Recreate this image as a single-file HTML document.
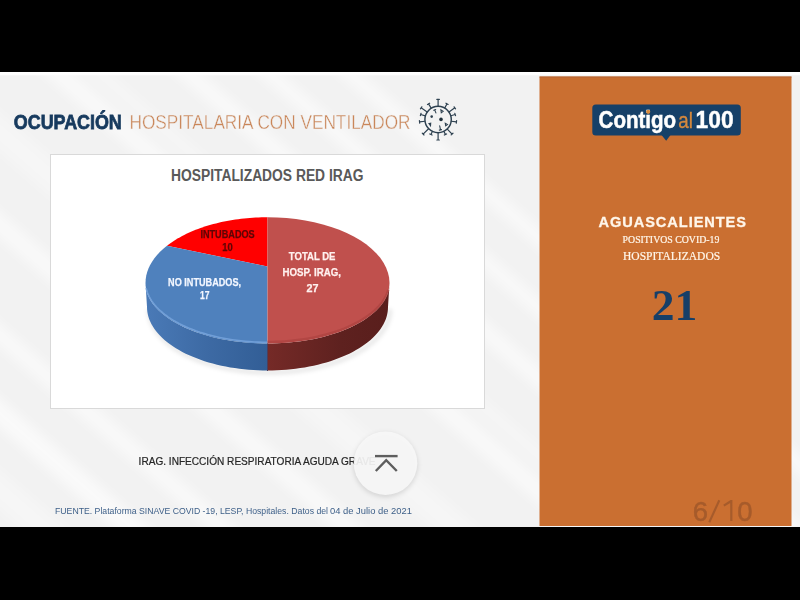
<!DOCTYPE html>
<html><head><meta charset="utf-8">
<style>
html,body{margin:0;padding:0;background:#000;width:800px;height:600px;overflow:hidden}
svg{display:block}
text{font-family:"Liberation Sans",sans-serif}
.serif{font-family:"Liberation Serif",serif}
</style></head>
<body>
<svg width="800" height="600" viewBox="0 0 800 600">
<defs>
  <clipPath id="slideClip"><rect x="0" y="73" width="800" height="454"/></clipPath>
  <linearGradient id="topline" x1="0" y1="0" x2="0" y2="1">
    <stop offset="0" stop-color="#fff"/>
    <stop offset="0.6" stop-color="#fdfdfd"/>
    <stop offset="1" stop-color="#fdfdfd" stop-opacity="0"/>
  </linearGradient>
  <linearGradient id="sideBlue" x1="0" y1="0" x2="1" y2="0">
    <stop offset="0" stop-color="#4a7ab7"/>
    <stop offset="0.5" stop-color="#3d6aa4"/>
    <stop offset="1" stop-color="#325e96"/>
  </linearGradient>
  <linearGradient id="sideRed" x1="0" y1="0" x2="1" y2="0">
    <stop offset="0" stop-color="#752a27"/>
    <stop offset="0.6" stop-color="#5e211f"/>
    <stop offset="1" stop-color="#591e1c"/>
  </linearGradient>
  <filter id="blur3" x="-50%" y="-50%" width="200%" height="200%"><feGaussianBlur stdDeviation="2.5"/></filter>
  <filter id="blur2" x="-20%" y="-50%" width="140%" height="200%"><feGaussianBlur stdDeviation="2"/></filter>
  <filter id="blur6" x="-50%" y="-50%" width="200%" height="200%"><feGaussianBlur stdDeviation="6"/></filter>
</defs>

<!-- slide background -->
<rect x="0" y="72" width="800" height="455" fill="#f2f2f2"/>
<g clip-path="url(#slideClip)">
  <g transform="rotate(41)" fill="#ffffff" filter="url(#blur6)">
    <rect x="-300" y="-182" width="1600" height="16" opacity="0.52"/>
    <rect x="-300" y="-129" width="1600" height="16" opacity="0.52"/>
    <rect x="-300" y="-77" width="1600" height="18" opacity="0.52"/>
    <rect x="-300" y="-17" width="1600" height="14" opacity="0.30"/>
    <rect x="-300" y="7" width="1600" height="20" opacity="0.52"/>
    <rect x="-300" y="85" width="1600" height="30" opacity="0.30"/>
    <rect x="-300" y="160" width="1600" height="20" opacity="0.52"/>
    <rect x="-300" y="244" width="1600" height="18" opacity="0.52"/>
    <rect x="-300" y="301" width="1600" height="22" opacity="0.60"/>
    <rect x="-300" y="355" width="1600" height="30" opacity="0.30"/>
  </g>
</g>
<rect x="0" y="72" width="800" height="4" fill="url(#topline)"/>

<!-- orange panel -->
<rect x="539.5" y="76.5" width="252" height="449.5" fill="#ca6f31"/>
<rect x="539.5" y="76.5" width="252" height="1.2" fill="#b06435" opacity="0.7"/>

<!-- title -->
<text x="13.8" y="129" font-size="20.5" font-weight="bold" fill="#173a5e" stroke="#173a5e" stroke-width="0.8" textLength="108" lengthAdjust="spacingAndGlyphs">OCUPACIÓN</text>
<text x="129.5" y="128.5" font-size="19.5" fill="#c98659" stroke="#f2f2f2" stroke-width="0.4" textLength="281" lengthAdjust="spacingAndGlyphs">HOSPITALARIA CON VENTILADOR</text>

<!-- virus icon -->
<g id="virus" transform="translate(438.1,119.5)" stroke="#2e4150" fill="none" stroke-linecap="round">
  <circle r="13.2" stroke-width="1.45"/>
  <path d="M0.00,-13.30L0.00,-20.10M-1.25,-20.10L1.25,-20.10M6.59,-11.55L8.92,-15.64M7.83,-16.25L10.00,-15.02M10.91,-7.61L16.73,-11.67M16.02,-12.70L17.45,-10.65M12.77,-3.73L17.08,-5.00M16.73,-6.20L17.44,-3.80M13.18,1.76L18.34,2.45M18.50,1.21L18.17,3.69M9.21,9.60L13.98,14.58M14.88,13.71L13.08,15.44M5.85,11.94L7.35,15.00M8.47,14.45L6.22,15.55M0.00,13.30L0.00,20.50M1.25,20.50L-1.25,20.50M-5.75,11.99L-7.17,14.97M-6.05,15.51L-8.30,14.43M-9.53,9.27L-14.98,14.57M-14.11,15.47L-15.85,13.67M-13.19,1.74L-18.54,2.44M-18.38,3.68L-18.70,1.20M-12.78,-3.69L-17.39,-5.02M-17.74,-3.82L-17.04,-6.22M-10.96,-7.53L-16.98,-11.67M-17.69,-10.64L-16.27,-12.70M-6.93,-11.35L-9.53,-15.62M-10.60,-14.97L-8.47,-16.27" stroke-width="1.2"/>
  <path d="M-3.4,-9.6L-2.2,-6.6M-4.4,-9.2L-2.4,-9.9M2.8,-9.6L3.2,-6.8L5,-8.2Z M-9.2,4L-7.6,6.2L-7.4,3.6Z M7.2,3.8L7.6,6.2L9.3,5Z M1.6,6.4L2.4,10.4M1.2,10.6L3.4,10.1" stroke-width="1.1"/>
  <circle cx="-6.4" cy="-2.9" r="1.3" fill="#2b3d4c" stroke="none"/>
  <circle cx="2.9" cy="-0.1" r="1.8" fill="#1f2f3a" stroke="none"/>
</g>

<!-- chart box -->
<rect x="50.5" y="154.5" width="434" height="254" fill="#fff" stroke="#d9d9d9" stroke-width="1"/>
<text x="171" y="180.6" font-size="16" font-weight="bold" fill="#595959" textLength="192.5" lengthAdjust="spacingAndGlyphs">HOSPITALIZADOS RED IRAG</text>

<!-- pie -->
<g id="pie">
  <path d="M147.00,307.00 L147.09,309.49 L147.37,311.98 L147.84,314.46 L148.48,316.93 L149.32,319.39 L150.33,321.82 L151.52,324.24 L152.90,326.62 L154.45,328.98 L156.17,331.30 L158.07,333.58 L160.13,335.83 L162.36,338.03 L164.76,340.18 L167.31,342.28 L170.01,344.32 L172.87,346.31 L175.87,348.24 L179.01,350.10 L182.29,351.90 L185.70,353.63 L189.24,355.29 L192.90,356.87 L196.67,358.37 L200.55,359.80 L204.54,361.14 L208.62,362.40 L212.79,363.58 L217.05,364.67 L221.39,365.67 L225.79,366.58 L230.26,367.39 L234.79,368.12 L239.37,368.75 L243.99,369.28 L248.65,369.72 L253.34,370.06 L258.05,370.30 L262.77,370.45 L267.50,370.50 L272.23,370.45 L276.95,370.30 L281.66,370.06 L286.35,369.72 L291.01,369.28 L295.63,368.75 L300.21,368.12 L304.74,367.39 L309.21,366.58 L313.61,365.67 L317.95,364.67 L322.21,363.58 L326.38,362.40 L330.46,361.14 L334.45,359.80 L338.33,358.37 L342.10,356.87 L345.76,355.29 L349.30,353.63 L352.71,351.90 L355.99,350.10 L359.13,348.24 L362.13,346.31 L364.99,344.32 L367.69,342.28 L370.24,340.18 L372.64,338.03 L374.87,335.83 L376.93,333.58 L378.83,331.30 L380.55,328.98 L382.10,326.62 L383.48,324.24 L384.67,321.82 L385.68,319.39 L386.52,316.93 L387.16,314.46 L387.63,311.98 L387.91,309.49 L388.00,307.00" fill="none" stroke="#000" stroke-opacity="0.10" stroke-width="4" filter="url(#blur2)" transform="translate(2,2)"/>
  <path d="M145.50,283.00 L145.59,285.38 L145.88,287.75 L146.35,290.11 L147.00,292.46 L147.84,294.80 L148.87,297.12 L150.08,299.42 L151.47,301.70 L153.04,303.94 L154.79,306.15 L156.71,308.33 L158.80,310.47 L161.06,312.56 L163.48,314.61 L166.06,316.61 L168.80,318.56 L171.69,320.46 L174.73,322.29 L177.91,324.07 L181.23,325.78 L184.69,327.43 L188.27,329.00 L191.97,330.51 L195.79,331.95 L199.72,333.30 L203.76,334.58 L207.89,335.79 L212.11,336.91 L216.42,337.94 L220.81,338.89 L225.27,339.76 L229.80,340.54 L234.38,341.23 L239.02,341.83 L243.70,342.34 L248.41,342.76 L253.16,343.08 L257.93,343.31 L262.71,343.45 L267.50,343.50 L267.50,370.50 L262.77,370.45 L258.05,370.30 L253.34,370.06 L248.65,369.72 L243.99,369.28 L239.37,368.75 L234.79,368.12 L230.26,367.39 L225.79,366.58 L221.39,365.67 L217.05,364.67 L212.79,363.58 L208.62,362.40 L204.54,361.14 L200.55,359.80 L196.67,358.37 L192.90,356.87 L189.24,355.29 L185.70,353.63 L182.29,351.90 L179.01,350.10 L175.87,348.24 L172.87,346.31 L170.01,344.32 L167.31,342.28 L164.76,340.18 L162.36,338.03 L160.13,335.83 L158.07,333.58 L156.17,331.30 L154.45,328.98 L152.90,326.62 L151.52,324.24 L150.33,321.82 L149.32,319.39 L148.48,316.93 L147.84,314.46 L147.37,311.98 L147.09,309.49 L147.00,307.00 Z" fill="url(#sideBlue)"/>
  <path d="M267.50,343.50 L272.29,343.45 L277.07,343.31 L281.84,343.08 L286.59,342.76 L291.30,342.34 L295.98,341.83 L300.62,341.23 L305.20,340.54 L309.73,339.76 L314.19,338.89 L318.58,337.94 L322.89,336.91 L327.11,335.79 L331.24,334.58 L335.28,333.30 L339.21,331.95 L343.03,330.51 L346.73,329.00 L350.31,327.43 L353.77,325.78 L357.09,324.07 L360.27,322.29 L363.31,320.46 L366.20,318.56 L368.94,316.61 L371.52,314.61 L373.94,312.56 L376.20,310.47 L378.29,308.33 L380.21,306.15 L381.96,303.94 L383.53,301.70 L384.92,299.42 L386.13,297.12 L387.16,294.80 L388.00,292.46 L388.65,290.11 L389.12,287.75 L389.41,285.38 L389.50,283.00 L388.00,307.00 L387.91,309.49 L387.63,311.98 L387.16,314.46 L386.52,316.93 L385.68,319.39 L384.67,321.82 L383.48,324.24 L382.10,326.62 L380.55,328.98 L378.83,331.30 L376.93,333.58 L374.87,335.83 L372.64,338.03 L370.24,340.18 L367.69,342.28 L364.99,344.32 L362.13,346.31 L359.13,348.24 L355.99,350.10 L352.71,351.90 L349.30,353.63 L345.76,355.29 L342.10,356.87 L338.33,358.37 L334.45,359.80 L330.46,361.14 L326.38,362.40 L322.21,363.58 L317.95,364.67 L313.61,365.67 L309.21,366.58 L304.74,367.39 L300.21,368.12 L295.63,368.75 L291.01,369.28 L286.35,369.72 L281.66,370.06 L276.95,370.30 L272.23,370.45 L267.50,370.50 Z" fill="url(#sideRed)"/>
  <path d="M267.5,266.5 L267.50,217.25 L264.55,217.27 L261.59,217.33 L258.64,217.42 L255.70,217.56 L252.76,217.73 L249.84,217.94 L246.92,218.19 L244.01,218.48 L241.12,218.81 L238.24,219.17 L235.38,219.57 L232.54,220.01 L229.72,220.48 L226.93,220.99 L224.15,221.54 L221.40,222.12 L218.68,222.74 L215.99,223.40 L213.33,224.09 L210.70,224.81 L208.10,225.57 L205.53,226.36 L203.01,227.19 L200.52,228.05 L198.07,228.94 L195.66,229.86 L193.29,230.81 L190.97,231.79 L188.69,232.81 L186.46,233.85 L184.28,234.92 L182.14,236.02 L180.06,237.15 L178.02,238.31 L176.04,239.49 L174.11,240.69 L172.24,241.92 L170.42,243.18 L168.66,244.46 L166.96,245.76 Z" fill="#ff0000"/>
  <path d="M267.5,266.5 L166.96,245.76 L163.35,248.76 L160.06,251.85 L157.08,255.04 L154.42,258.32 L152.10,261.66 L150.12,265.07 L148.49,268.53 L147.21,272.03 L146.28,275.57 L145.71,279.13 L145.50,282.70 L145.65,286.01 L146.16,289.28 L147.03,292.54 L148.25,295.77 L149.82,298.96 L151.75,302.11 L154.01,305.20 L156.61,308.22 L159.53,311.17 L162.78,314.04 L166.33,316.81 L170.18,319.48 L174.32,322.05 L178.73,324.50 L183.40,326.83 L188.33,329.03 L193.48,331.09 L198.86,333.02 L204.44,334.79 L210.20,336.41 L216.13,337.88 L222.22,339.18 L228.44,340.31 L234.77,341.28 L241.20,342.08 L247.71,342.70 L254.27,343.14 L260.88,343.41 L267.50,343.50 Z" fill="#4f81bd"/>
  <path d="M267.5,266.5 L267.50,343.50 L277.07,343.31 L286.59,342.76 L295.98,341.83 L305.20,340.54 L314.19,338.89 L322.89,336.91 L331.24,334.58 L339.21,331.95 L346.73,329.00 L353.77,325.78 L360.27,322.29 L366.20,318.56 L371.52,314.61 L376.20,310.47 L380.21,306.15 L383.53,301.70 L386.13,297.12 L388.00,292.46 L389.12,287.75 L389.50,283.00 L389.12,277.84 L388.00,272.71 L386.13,267.65 L383.53,262.68 L380.21,257.84 L376.20,253.15 L371.52,248.65 L366.20,244.35 L360.27,240.30 L353.77,236.51 L346.73,233.00 L339.21,229.81 L331.24,226.94 L322.89,224.42 L314.19,222.25 L305.20,220.47 L295.98,219.07 L286.59,218.06 L277.07,217.45 L267.50,217.25 Z" fill="#c0504d"/>
  <path d="M146.17,289.32 L146.72,291.52 L147.43,293.71 L148.30,295.89 L149.33,298.05 L150.52,300.18 L151.87,302.30 L153.38,304.39 L155.03,306.44 L156.84,308.47 L158.80,310.47 L160.90,312.42 L163.15,314.34 L165.53,316.22 L168.05,318.05 L170.71,319.83 L173.50,321.56 L176.41,323.25 L179.45,324.87 L182.60,326.45 L185.87,327.96 L189.24,329.41 L192.73,330.80 L196.31,332.13 L199.99,333.39 L203.76,334.58 L207.61,335.71 L211.54,336.76 L215.55,337.74 L219.63,338.65 L223.78,339.48 L227.98,340.24 L232.24,340.92 L236.54,341.52 L240.89,342.04 L245.27,342.49 L249.68,342.85 L254.11,343.13 L258.56,343.34 L263.03,343.46 L267.50,343.50" fill="none" stroke="#79a6de" stroke-width="1.6" stroke-opacity="0.8" transform="translate(0,-1.2)"/>
  <path d="M267.50,343.50 L271.86,343.46 L276.22,343.35 L280.57,343.15 L284.90,342.88 L289.21,342.53 L293.49,342.11 L297.74,341.61 L301.95,341.04 L306.11,340.39 L310.23,339.67 L314.29,338.87 L318.29,338.01 L322.22,337.07 L326.09,336.07 L329.88,334.99 L333.59,333.85 L337.21,332.65 L340.75,331.38 L344.19,330.05 L347.54,328.66 L350.78,327.21 L353.92,325.71 L356.94,324.14 L359.85,322.53 L362.65,320.87 L365.32,319.16 L367.86,317.40 L370.28,315.60 L372.56,313.75 L374.72,311.87 L376.73,309.95 L378.60,307.99 L380.34,306.01 L381.92,303.99 L383.36,301.95 L384.66,299.88 L385.80,297.79 L386.79,295.68 L387.63,293.56 L388.31,291.42" fill="none" stroke="#a8403d" stroke-width="2.5" stroke-opacity="0.6" transform="translate(0,-1.5)"/>
  <line x1="267.5" y1="343.5" x2="267.5" y2="371" stroke="#4d3f5c" stroke-width="1"/>
</g>
<!-- pie labels -->
<g font-weight="bold" font-size="10.5" stroke-width="0.25">
  <text x="200.4" y="238.2" fill="#5e0505" stroke="#5e0505" textLength="54.3" lengthAdjust="spacingAndGlyphs">INTUBADOS</text>
  <text x="222.3" y="251.4" fill="#5e0505" stroke="#5e0505" textLength="10.5" lengthAdjust="spacingAndGlyphs">10</text>
  <text x="288.8" y="260" fill="#fff0ee" stroke="#fff0ee" textLength="46.7" lengthAdjust="spacingAndGlyphs">TOTAL DE</text>
  <text x="282.5" y="275.5" fill="#fff0ee" stroke="#fff0ee" textLength="58.5" lengthAdjust="spacingAndGlyphs">HOSP. IRAG,</text>
  <text x="306.5" y="291.5" fill="#fff0ee" stroke="#fff0ee" textLength="12" lengthAdjust="spacingAndGlyphs">27</text>
  <text x="168.1" y="285.5" fill="#f2f6ff" stroke="#f2f6ff" textLength="72.9" lengthAdjust="spacingAndGlyphs">NO INTUBADOS,</text>
  <text x="200" y="299.3" fill="#f2f6ff" stroke="#f2f6ff" textLength="9.5" lengthAdjust="spacingAndGlyphs">17</text>
</g>

<!-- note text -->
<text x="138.6" y="465" font-size="10" fill="#262626" stroke="#262626" stroke-width="0.2" textLength="237" lengthAdjust="spacingAndGlyphs">IRAG. INFECCIÓN RESPIRATORIA AGUDA GRAVE</text>

<!-- footer -->
<text x="55" y="514.3" font-size="8.8" fill="#3d5f88" textLength="273" lengthAdjust="spacingAndGlyphs">FUENTE. Plataforma SINAVE COVID -19, LESP, Hospitales. Datos del</text>
<text x="330" y="514.3" font-size="9.4" fill="#3d5f88" textLength="82" lengthAdjust="spacingAndGlyphs">04 de Julio de 2021</text>

<!-- logo -->
<g id="logo">
  <rect x="592.3" y="104.5" width="148.5" height="31" rx="3.5" fill="#164068"/>
  <path d="M661.5,135 L666.2,140.8 L670.5,135 Z" fill="#164068"/>
  <text x="598.6" y="128.1" font-size="23" font-weight="bold" fill="#fff" stroke="#fff" stroke-width="0.5" textLength="77.5" lengthAdjust="spacingAndGlyphs">Contigo</text>
  <circle cx="648.2" cy="111.8" r="2.1" fill="#d98a3c"/>
  <text x="678.3" y="128.1" font-size="22" fill="#d4883e" stroke="#d4883e" stroke-width="0.35" textLength="14.6" lengthAdjust="spacingAndGlyphs">al</text>
  <text x="695.6" y="128.1" font-size="23.3" font-weight="bold" fill="#fff" stroke="#fff" stroke-width="0.4" textLength="38" lengthAdjust="spacingAndGlyphs">100</text>
</g>

<!-- right panel text -->
<text x="598.5" y="226.9" font-size="14.6" font-weight="bold" fill="#fff6ea" stroke="#fff6ea" stroke-width="0.3" textLength="147.5" lengthAdjust="spacing">AGUASCALIENTES</text>
<text class="serif" x="622.6" y="242.9" font-size="9.8" fill="#fff6ea" stroke="#fff6ea" stroke-width="0.2" textLength="96.8" lengthAdjust="spacingAndGlyphs">POSITIVOS COVID-19</text>
<text class="serif" x="623" y="259.9" font-size="11.7" fill="#fff6ea" stroke="#fff6ea" stroke-width="0.2" textLength="97.2" lengthAdjust="spacingAndGlyphs">HOSPITALIZADOS</text>
<text class="serif" x="651.8" y="319.8" font-size="44.5" font-weight="bold" fill="#163f68" textLength="45.6" lengthAdjust="spacingAndGlyphs">21</text>
<g fill="#a65b2b" stroke="#a65b2b">
  <text x="692.8" y="521" font-size="27.5" stroke-width="0.45">6</text>
  <text x="737.3" y="521" font-size="27.5" stroke-width="0.45">0</text>
  <path d="M719.3,500.2 L709.3,522.3" stroke-width="2.1" fill="none"/>
  <path d="M723.8,505.6 L730.9,501.2 L731.3,501.2 L731.3,521" stroke-width="2.2" fill="none" stroke-linejoin="miter"/>
</g>

<!-- scroll to top button -->
<circle cx="385.5" cy="465" r="32" fill="#000" fill-opacity="0.13" filter="url(#blur3)"/>
<circle cx="385.5" cy="463.2" r="31.8" fill="#f6f6f6" fill-opacity="0.93"/>
<g stroke="#5e5e5e" stroke-width="2.4" fill="none">
  <line x1="375" y1="456.1" x2="397.6" y2="456.1"/>
  <polyline points="375.8,471 386.2,460.2 396.8,471"/>
</g>
</svg>
</body></html>
